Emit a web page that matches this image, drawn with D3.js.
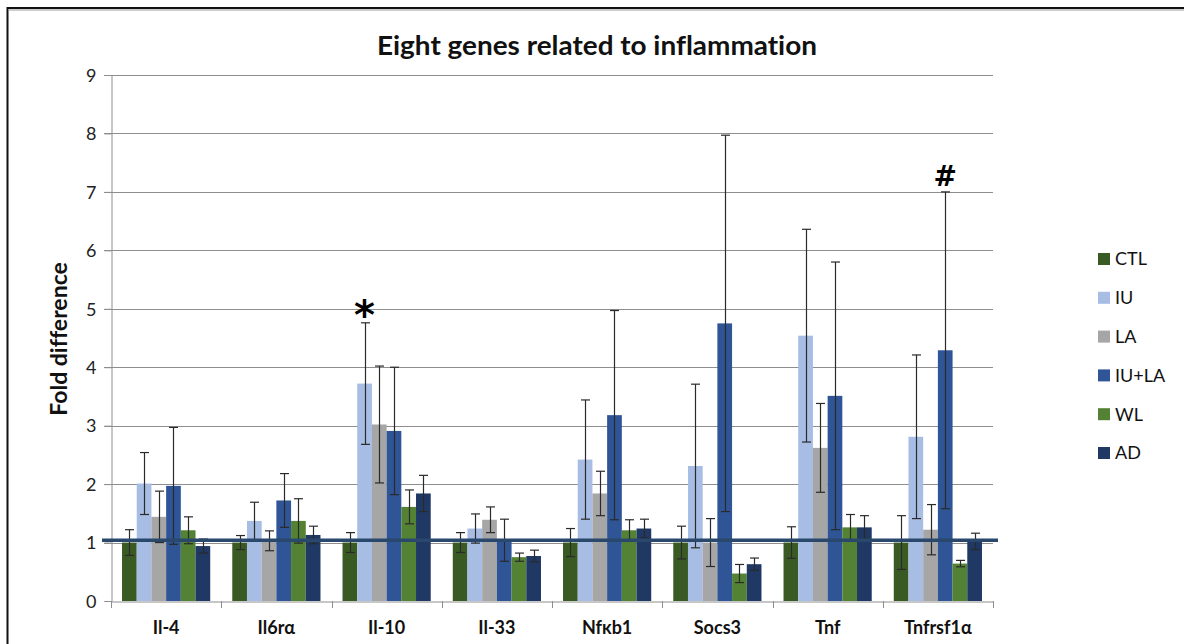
<!DOCTYPE html>
<html>
<head>
<meta charset="utf-8">
<script src="https://cdn.jsdelivr.net/npm/d3@7"></script>
<style>
  html, body { margin: 0; padding: 0; background: #fff; }
  svg { display: block; font-family: Lato, "Open Sans", "DejaVu Sans", sans-serif; font-variant-ligatures: none; }
</style>
</head>
<body>
<svg id="chart" width="1184" height="644"></svg>
<script>
// Genes on the x axis and treatment groups (one bar each per gene)
const genes = ["Il-4", "Il6rα", "Il-10", "Il-33", "Nfκb1", "Socs3", "Tnf", "Tnfrsf1α"];
const groups = ["CTL", "IU", "LA", "IU+LA", "WL", "AD"];
const colors = ["#3a5a24", "#a7bde4", "#a6a6a6", "#2f5597", "#548235", "#203864"];

// Mean fold difference per group, in gene order
const ctl    = [1.00, 1.00, 1.00, 1.00, 1.00, 1.00, 1.00, 1.00];
const iu     = [2.01, 1.37, 3.72, 1.24, 2.42, 2.31, 4.54, 2.81];
const la     = [1.44, 1.03, 3.02, 1.39, 1.84, 1.00, 2.62, 1.22];
const iuLa   = [1.97, 1.72, 2.91, 1.04, 3.18, 4.75, 3.51, 4.29];
const wl     = [1.21, 1.37, 1.61, 0.75, 1.21, 0.47, 1.26, 0.64];
const ad     = [0.94, 1.13, 1.84, 0.77, 1.24, 0.63, 1.26, 1.02];

// Error bar half-lengths (± SEM)
const ctlErr  = [0.22, 0.12, 0.17, 0.17, 0.24, 0.28, 0.27, 0.46];
const iuErr   = [0.53, 0.32, 1.04, 0.25, 1.02, 1.40, 1.82, 1.40];
const laErr   = [0.44, 0.17, 1.00, 0.22, 0.38, 0.41, 0.76, 0.43];
const iuLaErr = [1.00, 0.46, 1.09, 0.36, 1.79, 3.22, 2.29, 2.71];
const wlErr   = [0.23, 0.38, 0.29, 0.07, 0.18, 0.155, 0.22, 0.055];
const adErr   = [0.12, 0.15, 0.31, 0.10, 0.16, 0.105, 0.20, 0.14];

const yTicks = [0, 1, 2, 3, 4, 5, 6, 7, 8, 9];
const baseline = 1.04;   // reference level drawn across the plot
const marks = [{ gene: "Il-10", group: "IU", text: "*" }, { gene: "Tnfrsf1α", group: "IU+LA", text: "#" }];

const means = [ctl, iu, la, iuLa, wl, ad];
const errs = [ctlErr, iuErr, laErr, iuLaErr, wlErr, adErr];
const rows = [];
genes.forEach((g, gi) => groups.forEach((s, si) => rows.push({
  gene: g, group: s, color: colors[si], value: means[si][gi], err: errs[si][gi]
})));

const svg = d3.select("#chart");

// Outer frame
svg.append("rect").attr("x", 7.5).attr("y", 8).attr("width", 1200).attr("height", 700)
  .attr("fill", "none").attr("stroke", "#111").attr("stroke-width", 2);
svg.append("line").attr("x1", 8).attr("x2", 1184).attr("y1", 10).attr("y2", 10)
  .attr("stroke", "#999").attr("stroke-width", 1);

const x = d3.scaleBand().domain(genes).range([111, 993]).paddingInner(0).paddingOuter(0);
const xi = d3.scaleBand().domain(groups).range([0, x.bandwidth()]).paddingInner(0).paddingOuter(0.75);
const y = d3.scaleLinear().domain([0, 9]).range([601, 75]);

// Gridlines
svg.append("g").selectAll("line").data(yTicks.slice(1)).join("line")
  .attr("x1", 104).attr("x2", 993)
  .attr("y1", d => Math.round(y(d)) + 0.5).attr("y2", d => Math.round(y(d)) + 0.5)
  .attr("stroke", "#8e8e8e").attr("stroke-width", 1);

// Y axis
const yAxis = svg.append("g").attr("transform", "translate(111.5,0)")
  .call(d3.axisLeft(y).tickValues(yTicks).tickSize(7).tickPadding(8).tickFormat(d3.format("d")));
yAxis.select(".domain").attr("stroke", "#8e8e8e");
yAxis.selectAll(".tick line").attr("stroke", "#8e8e8e");
yAxis.selectAll(".tick text").attr("font-size", 18).attr("fill", "#222")
  .attr("font-family", "Lato, 'Open Sans', sans-serif").attr("dy", "0.35em");

// X axis
const xAxis = svg.append("g").attr("transform", "translate(0,601.5)")
  .call(d3.axisBottom(x).tickSize(0).tickPadding(20).tickSizeOuter(0));
xAxis.select(".domain").attr("stroke", "#8e8e8e");
xAxis.selectAll(".tick text").attr("font-size", 18).attr("font-weight", "bold").attr("fill", "#111")
  .attr("font-family", "Lato, 'Open Sans', sans-serif");
svg.append("g").selectAll("line").data(genes.concat(["end"])).join("line")
  .attr("x1", (d, i) => Math.round(111 + i * x.bandwidth()) + 0.5)
  .attr("x2", (d, i) => Math.round(111 + i * x.bandwidth()) + 0.5)
  .attr("y1", 601).attr("y2", 608).attr("stroke", "#8e8e8e");

// Bars
svg.append("g").selectAll("rect").data(rows).join("rect")
  .attr("x", d => x(d.gene) + xi(d.group))
  .attr("width", xi.bandwidth())
  .attr("y", d => y(d.value))
  .attr("height", d => y(0) - y(d.value))
  .attr("fill", d => d.color);

// Error bars
const eb = svg.append("g").attr("stroke", "#2a2a2a").attr("stroke-width", 1.2);
rows.forEach(d => {
  const cx = Math.round(x(d.gene) + xi(d.group) + xi.bandwidth() / 2) + 0.5;
  const y1 = y(d.value + d.err), y2 = y(d.value - d.err);
  eb.append("line").attr("x1", cx).attr("x2", cx).attr("y1", y1).attr("y2", y2);
  eb.append("line").attr("x1", cx - 4.5).attr("x2", cx + 4.5).attr("y1", y1).attr("y2", y1);
  eb.append("line").attr("x1", cx - 4.5).attr("x2", cx + 4.5).attr("y1", y2).attr("y2", y2);
});

// Reference line at the control level
svg.append("line").attr("x1", 102).attr("x2", 998)
  .attr("y1", y(baseline)).attr("y2", y(baseline))
  .attr("stroke", "#29486c").attr("stroke-width", 3.5);

// Significance markers above the upper error bar
marks.forEach(m => {
  const d = rows.find(r => r.gene === m.gene && r.group === m.group);
  const cx = x(d.gene) + xi(d.group) + xi.bandwidth() / 2;
  svg.append("text").attr("x", cx).attr("y", y(d.value + d.err) - (m.text === "*" ? -6 : 6))
    .attr("text-anchor", "middle").attr("font-weight", "bold")
    .attr("font-size", m.text === "*" ? 40 : 28).attr("fill", "#000")
    .attr("font-family", "'DejaVu Sans', sans-serif")
    .text(m.text);
});

// Title
svg.append("text").attr("x", 597).attr("y", 55).attr("text-anchor", "middle")
  .attr("font-size", 27).attr("font-weight", "bold").attr("fill", "#111")
  .attr("textLength", 440).attr("lengthAdjust", "spacingAndGlyphs")
  .text("Eight genes related to inflammation");

// Y axis title
svg.append("text").attr("transform", "translate(67,339) rotate(-90)").attr("text-anchor", "middle")
  .attr("font-size", 23).attr("font-weight", "bold").attr("fill", "#111").text("Fold difference");

// Legend
const lg = svg.append("g").selectAll("g").data(groups).join("g")
  .attr("transform", (d, i) => `translate(1098,${259 + i * 38.8})`);
lg.append("rect").attr("x", 0).attr("y", -6).attr("width", 12).attr("height", 12)
  .attr("fill", (d, i) => colors[i]);
lg.append("text").attr("x", 17).attr("y", 0).attr("dy", "0.36em")
  .attr("font-size", 18).attr("fill", "#111").text(d => d);
</script>
</body>
</html>
